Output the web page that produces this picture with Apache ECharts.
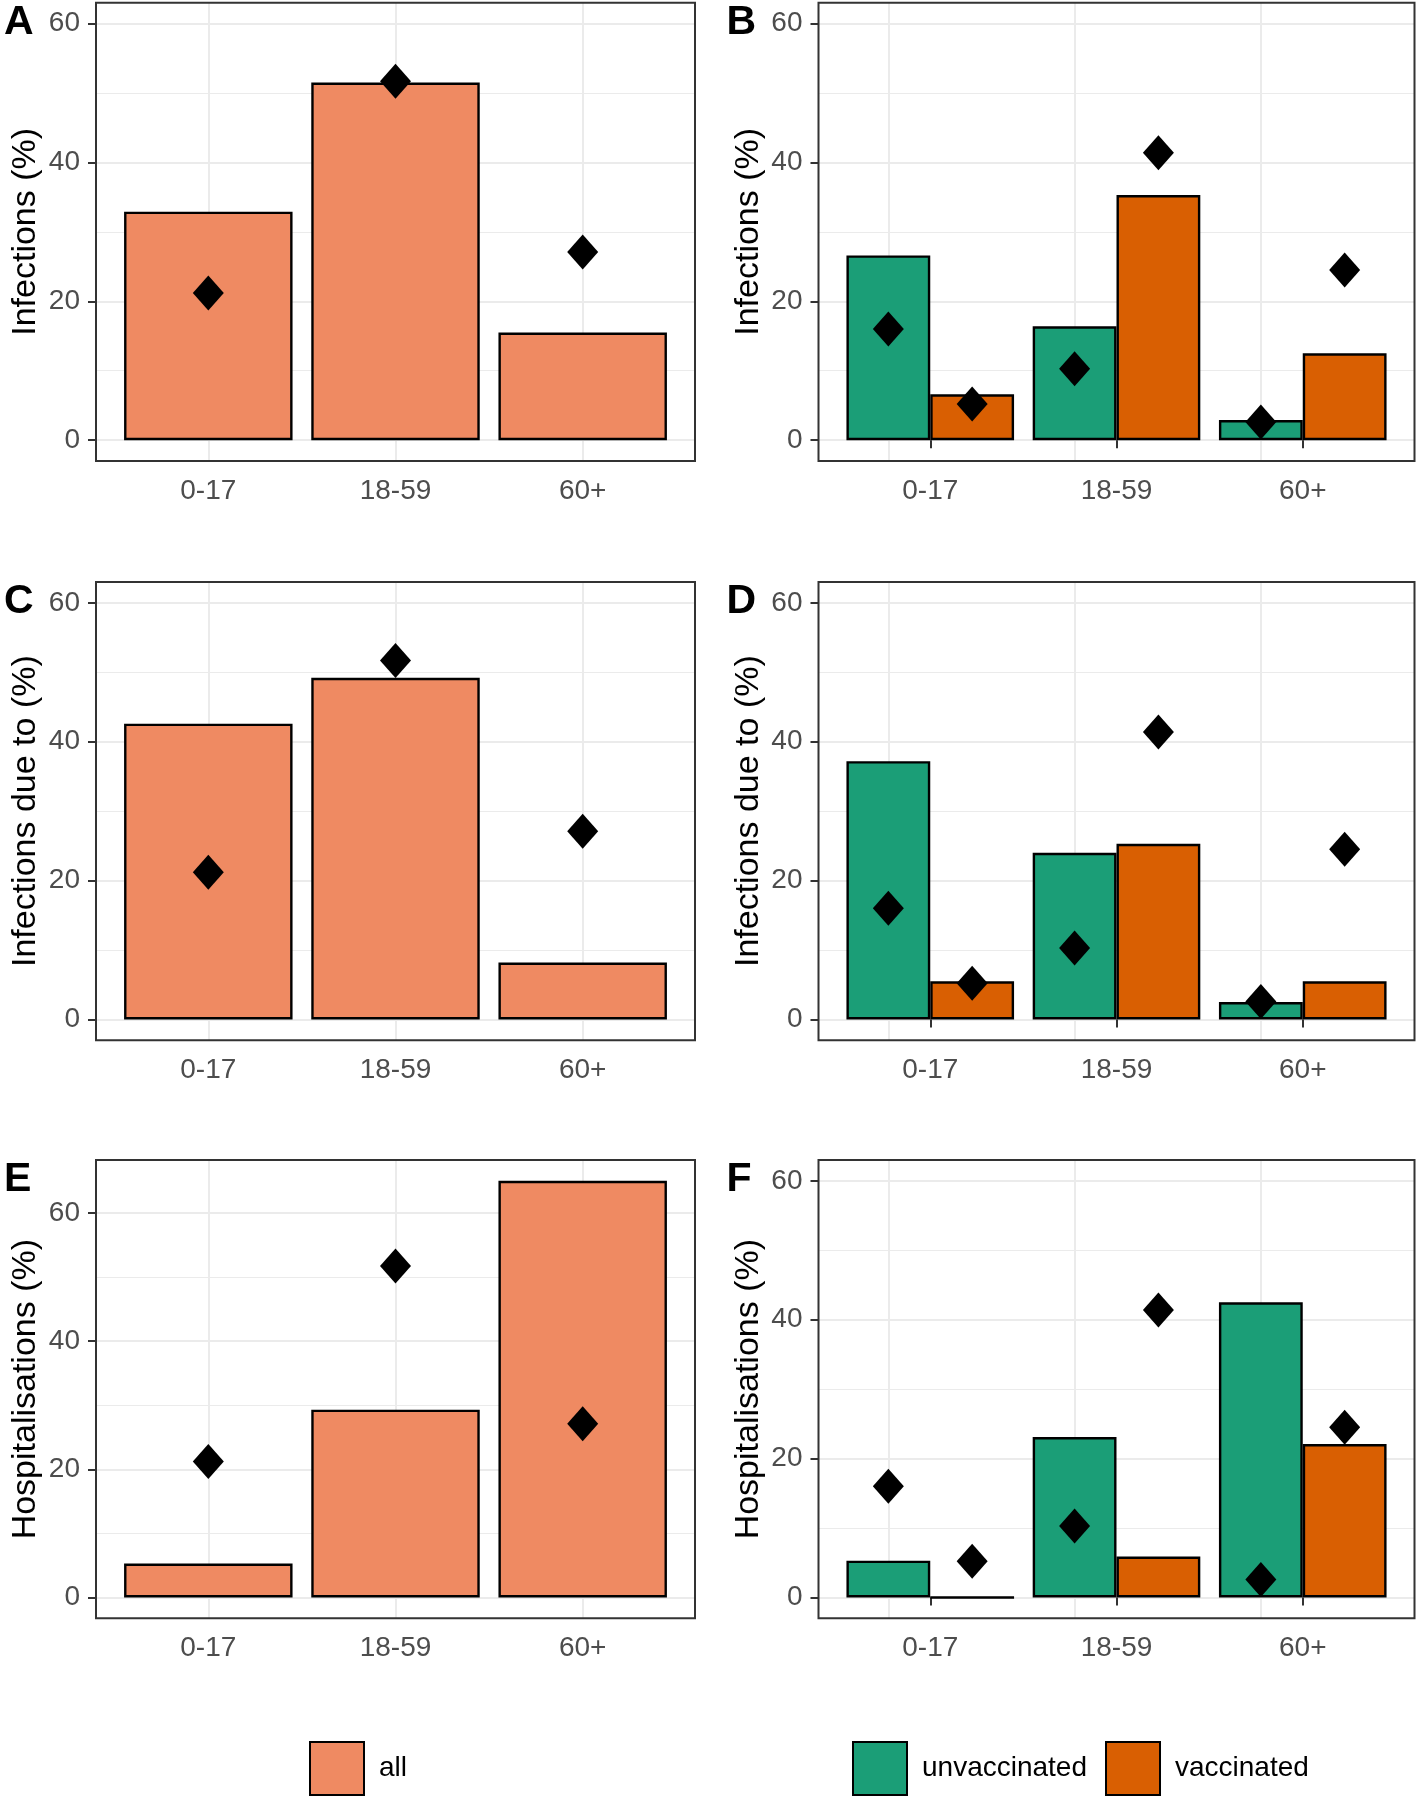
<!DOCTYPE html>
<html><head><meta charset="utf-8">
<script src="https://cdn.jsdelivr.net/npm/echarts@6/dist/echarts.min.js"></script>
<style>html,body{margin:0;padding:0;background:#fff}#c{width:1418px;height:1796px}</style>
</head><body><div id="c"></div>
<script>
// ---- data ----
const categories = ['0-17', '18-59', '60+'];
const populationAll = [21.2, 51.7, 27.1];
const populationUnvacc = [16.0, 10.3, 2.6];
const populationVacc = [5.2, 41.4, 24.5];
const infectionsAll = [32.9, 51.5, 15.5];
const infectionsUnvacc = [26.6, 16.4, 2.9];
const infectionsVacc = [6.6, 35.3, 12.5];
const infectionsDueAll = [42.6, 49.2, 8.2];
const infectionsDueUnvacc = [37.2, 24.0, 2.5];
const infectionsDueVacc = [5.5, 25.3, 5.5];
const hospAll = [5.3, 29.3, 65.0];
const hospUnvacc = [5.3, 23.1, 42.5];
const hospVacc = [0, 5.9, 22.1];
const yTickValues = [0, 20, 40, 60];
const panelLetters = ['A', 'B', 'C', 'D', 'E', 'F'];
const yTitles = ['Infections (%)', 'Infections due to (%)', 'Hospitalisations (%)'];
const seriesNames = ['all', 'unvaccinated', 'vaccinated'];

// ---- style / layout ----
const FONT = "'Liberation Sans', Arial, sans-serif";
const COL_ALL = '#EF8A62', COL_UNV = '#1B9E77', COL_VAC = '#D95F02';
const colLeft = [96, 818.5], colWidth = [599, 596];
const rowTop = [2.7, 582, 1160], rowHeight = 458.3;

const panels = [
  { bars: [[seriesNames[0], infectionsAll, COL_ALL]], pop: [populationAll], range: [-3, 63] },
  { bars: [[seriesNames[1], infectionsUnvacc, COL_UNV], [seriesNames[2], infectionsVacc, COL_VAC]], pop: [populationUnvacc, populationVacc], range: [-3, 63] },
  { bars: [[seriesNames[0], infectionsDueAll, COL_ALL]], pop: [populationAll], range: [-3, 63] },
  { bars: [[seriesNames[1], infectionsDueUnvacc, COL_UNV], [seriesNames[2], infectionsDueVacc, COL_VAC]], pop: [populationUnvacc, populationVacc], range: [-3, 63] },
  { bars: [[seriesNames[0], hospAll, COL_ALL]], pop: [populationAll], range: [-3.25, 68.25] },
  { bars: [[seriesNames[1], hospUnvacc, COL_UNV], [seriesNames[2], hospVacc, COL_VAC]], pop: [populationUnvacc, populationVacc], range: [-3, 63] }
];

const grid = [], xAxis = [], yAxis = [], series = [], title = [];
panels.forEach((p, i) => {
  const col = i % 2, row = Math.floor(i / 2);
  const L = colLeft[col], W = colWidth[col], T = rowTop[row];
  const fi = 2 * i, di = 2 * i + 1;
  grid.push({ left: L, top: T, width: W, height: rowHeight, show: true, borderColor: '#333333', borderWidth: 2, backgroundColor: 'transparent', z: 5 });
  grid.push({ left: L + W / 32, top: T, width: W * 30 / 32, height: rowHeight });
  xAxis.push({ gridIndex: fi, type: 'value', show: false, min: 0, max: 1 });
  yAxis.push({
    gridIndex: fi, type: 'value', min: p.range[0], max: p.range[1], splitNumber: 3,
    name: yTitles[row], nameLocation: 'middle', nameRotate: 90, nameGap: 53,
    nameTextStyle: { fontSize: 34, color: '#000', fontFamily: FONT },
    axisLine: { show: false },
    axisTick: { show: true, length: 8, customValues: yTickValues, lineStyle: { color: '#333333', width: 2 } },
    axisLabel: { customValues: yTickValues, fontSize: 28, color: '#4D4D4D', margin: 16, fontFamily: FONT,
      formatter: v => (Math.abs(v % 20) < 1e-9 ? String(v) : '') },
    splitLine: { show: true, lineStyle: { color: '#EBEBEB', width: 2 } },
    minorTick: { show: false, splitNumber: 2 },
    minorSplitLine: { show: true, lineStyle: { color: '#EBEBEB', width: 1.2 } }
  });
  xAxis.push({
    gridIndex: di, type: 'category', data: categories,
    axisLine: { show: false },
    axisTick: { show: true, alignWithLabel: true, length: 8, lineStyle: { color: '#333333', width: 2 } },
    axisLabel: { fontSize: 28, color: '#4D4D4D', margin: 16, fontFamily: FONT },
    splitLine: { show: false }
  });
  yAxis.push({ gridIndex: di, type: 'value', min: p.range[0], max: p.range[1], show: false });
  const two = p.bars.length === 2;
  p.bars.forEach((b, k) => {
    const s = {
      type: 'bar', name: b[0], xAxisIndex: di, yAxisIndex: di, data: b[1],
      barWidth: two ? '45%' : '90%', barGap: '0%', z: 2,
      itemStyle: { color: b[2], borderColor: '#000', borderWidth: 2.4 }
    };
    if (k === 0) {
      s.markLine = {
        silent: true, symbol: ['none', 'none'], z: 1, animation: false,
        label: { show: false },
        lineStyle: { color: '#EBEBEB', width: 2, type: 'solid' },
        emphasis: { disabled: true },
        data: categories.map(c => ({ xAxis: c }))
      };
    }
    series.push(s);
  });
  p.pop.forEach(d => {
    series.push({
      type: 'pictorialBar', name: 'population', xAxisIndex: di, yAxisIndex: di, data: d,
      barWidth: two ? '45%' : '90%', barGap: '0%', z: 4,
      symbol: 'diamond', symbolSize: [31, 35], symbolPosition: 'end', symbolOffset: [0, '-50%'],
      itemStyle: { color: '#000' }
    });
  });
  title.push({ text: panelLetters[i], left: L - 92, top: T - 1, padding: 0,
    textStyle: { fontSize: 41, fontWeight: 'bold', color: '#000', fontFamily: FONT } });
});

const legendText = { fontSize: 28, color: '#000', fontFamily: FONT, padding: [0, 0, 0, 10] };
const option = {
  animation: false,
  backgroundColor: '#ffffff',
  title, grid, xAxis, yAxis, series,
  legend: [
    { data: [seriesNames[0]], left: 309, top: 1741, padding: 0, itemWidth: 54, itemHeight: 53, icon: 'rect', selectedMode: false, textStyle: legendText },
    { data: [seriesNames[1], seriesNames[2]], left: 852, top: 1741, padding: 0, itemGap: 18, itemWidth: 54, itemHeight: 53, icon: 'rect', selectedMode: false, textStyle: legendText }
  ]
};
const chart = echarts.init(document.getElementById('c'), null, { renderer: 'canvas' });
chart.setOption(option);
</script></body></html>
